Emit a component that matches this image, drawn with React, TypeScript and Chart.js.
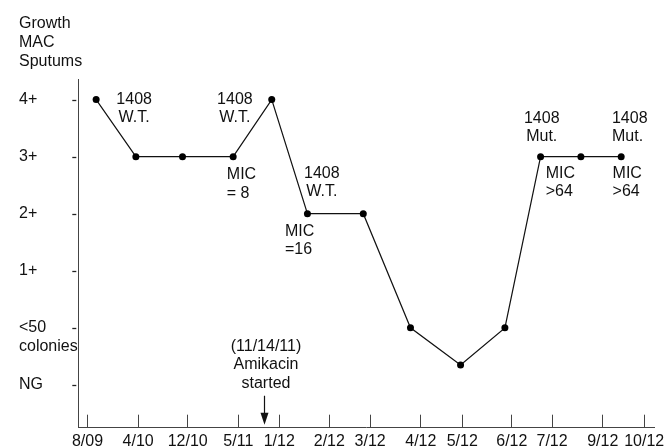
import React, { useEffect, useRef } from "react";
import { Chart, registerables } from "chart.js";

Chart.register(...registerables);

// x axis: schematic timeline (0–100 units across the axis)
const tickPositions = [1.6, 10.4, 19.0, 27.8, 34.9, 43.6, 50.7, 59.5, 66.7, 75.3, 82.3, 91.1, 98.3];
const tickLabels = ["8/09", "4/10", "12/10", "5/11", "1/12", "2/12", "3/12", "4/12", "5/12", "6/12", "7/12", "9/12", "10/12"];

// samples
const sampleX = [3.1, 10.0, 18.1, 26.9, 33.6, 39.8, 49.5, 57.7, 66.4, 74.1, 80.3, 87.3, 94.3];
const growth = [5, 4, 4, 4, 5, 3, 3, 1, 0.35, 1, 4, 4, 4];

// y axis levels
const growthLevels = [0, 1, 2, 3, 4, 5];
const growthLabels: (string | string[])[] = ["NG", ["", "<50", "colonies"], "1+", "2+", "3+", "4+"];

const titleLines = ["Growth", "MAC", "Sputums"];

// annotations (anchor in data units: first line)
const notes = [
  { lines: ["1408", "W.T."], x: 9.7, y: 5.0, align: "center" },
  { lines: ["1408", "W.T."], x: 27.2, y: 5.0, align: "center" },
  { lines: ["MIC", "= 8"], x: 25.8, y: 3.68, align: "left" },
  { lines: ["1408", "W.T."], x: 42.3, y: 3.7, align: "center" },
  { lines: ["MIC", "=16"], x: 35.9, y: 2.69, align: "left" },
  { lines: ["(11/14/11)", "Amikacin", "started"], x: 32.6, y: 0.67, align: "center" },
  { lines: ["1408", "Mut."], x: 80.5, y: 4.67, align: "center" },
  { lines: ["1408", "Mut."], x: 92.7, y: 4.67, align: "left" },
  { lines: ["MIC", ">64"], x: 81.2, y: 3.7, align: "left" },
  { lines: ["MIC", ">64"], x: 92.8, y: 3.7, align: "left" },
];

const amikacinX = 32.25;
const arrowFrom = -0.19;
const arrowTo = -0.7;

const FONT = "'Liberation Sans', Arial, Helvetica, sans-serif";
const INK = "#111";
const AXIS = "#444";

const overlayPlugin = {
  id: "overlay",
  afterDatasetsDraw(chart: any) {
    const ctx = chart.ctx;
    const xs = chart.scales.x;
    const ys = chart.scales.y;
    const area = chart.chartArea;
    ctx.save();
    // y tick dashes
    ctx.strokeStyle = "#222";
    ctx.lineWidth = 1.3;
    growthLevels.forEach((v) => {
      const py = Math.round(ys.getPixelForValue(v)) + 0.5;
      ctx.beginPath();
      ctx.moveTo(area.left - 6, py);
      ctx.lineTo(area.left - 2, py);
      ctx.stroke();
    });
    // notes
    ctx.fillStyle = INK;
    ctx.font = `16px ${FONT}`;
    ctx.textBaseline = "middle";
    notes.forEach((n) => {
      const px = xs.getPixelForValue(n.x);
      const py = ys.getPixelForValue(n.y);
      ctx.textAlign = n.align as CanvasTextAlign;
      n.lines.forEach((l, i) => ctx.fillText(l, px, py + i * 18.3));
    });
    // arrow
    const ax = Math.round(xs.getPixelForValue(amikacinX)) + 0.5;
    const a1 = ys.getPixelForValue(arrowFrom);
    const a2 = ys.getPixelForValue(arrowTo);
    ctx.strokeStyle = INK;
    ctx.lineWidth = 1.2;
    ctx.beginPath();
    ctx.moveTo(ax, a1);
    ctx.lineTo(ax, a2 - 10);
    ctx.stroke();
    ctx.fillStyle = INK;
    ctx.beginPath();
    ctx.moveTo(ax - 4, a2 - 12);
    ctx.lineTo(ax + 4, a2 - 12);
    ctx.lineTo(ax, a2);
    ctx.closePath();
    ctx.fill();
    ctx.restore();
  },
};

export default function App() {
  const ref = useRef<HTMLCanvasElement>(null);
  useEffect(() => {
    if (!ref.current) return;
    Chart.defaults.font.family = FONT;
    const chart = new Chart(ref.current, {
      type: "line",
      data: {
        datasets: [
          {
            data: sampleX.map((x, i) => ({ x, y: growth[i] })),
            borderColor: INK,
            borderWidth: 1.2,
            pointRadius: 3.5,
            pointBackgroundColor: "#000",
            pointBorderWidth: 0,
            tension: 0,
            clip: false as any,
          },
        ],
      },
      options: {
        responsive: false,
        animation: false,
        devicePixelRatio: 1,
        layout: { padding: { left: 19, right: 15, top: 0, bottom: 0 } },
        plugins: {
          legend: { display: false },
          tooltip: { enabled: false },
          title: {
            display: true,
            text: titleLines,
            align: "start",
            color: INK,
            font: { size: 16, weight: "normal", family: FONT, lineHeight: 1.2 },
            padding: { top: 14, bottom: 8 },
          },
        },
        scales: {
          x: {
            type: "linear",
            min: 0,
            max: 100,
            afterBuildTicks: (scale: any) => {
              scale.ticks = tickPositions.map((v) => ({ value: v }));
            },
            afterFit: (scale: any) => {
              scale.height = 20.3;
              scale.paddingLeft = 0;
              scale.paddingRight = 0;
            },
            ticks: {
              autoSkip: false,
              maxRotation: 0,
              minRotation: 0,
              padding: 17.3,
              color: INK,
              font: { size: 16, family: FONT },
              callback: (_v: any, i: number) => tickLabels[i],
            },
            grid: {
              display: true,
              drawOnChartArea: false,
              drawTicks: true,
              tickLength: -13,
              tickColor: AXIS,
              tickWidth: 1,
            },
            border: { display: true, color: AXIS, width: 1 },
          },
          y: {
            type: "linear",
            min: -0.75,
            max: 5.35,
            afterBuildTicks: (scale: any) => {
              scale.ticks = growthLevels.map((v) => ({ value: v }));
            },
            afterFit: (scale: any) => {
              scale.width = 59.3;
              scale.paddingTop = 0;
              scale.paddingBottom = 0;
            },
            ticks: {
              autoSkip: false,
              crossAlign: "far",
              color: INK,
              font: { size: 16, family: FONT, lineHeight: 1.15 },
              callback: (v: any) => growthLabels[growthLevels.indexOf(Number(v))] as any,
            },
            grid: { display: false },
            border: { display: true, color: AXIS, width: 1 },
          },
        },
      },
      plugins: [overlayPlugin],
    });
    return () => chart.destroy();
  }, []);
  return (
    <div style={{ position: "fixed", left: 0, top: 0, width: 669, height: 448, background: "#fff" }}>
      <canvas ref={ref} width={669} height={448} style={{ display: "block" }} />
    </div>
  );
}
